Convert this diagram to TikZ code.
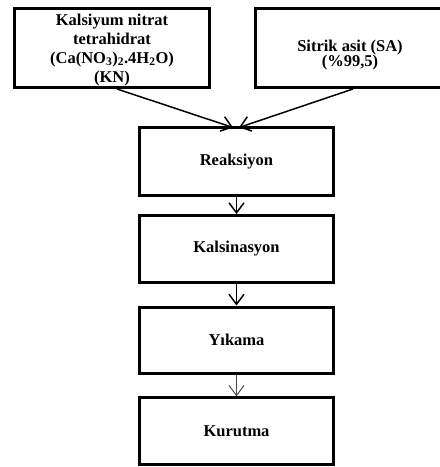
\documentclass[tikz,border=0pt]{standalone}
\usepackage{fontspec}
\setmainfont{Liberation Serif}
\usetikzlibrary{arrows.meta}
\begin{document}
\begin{tikzpicture}[x=1pt,y=-1pt,
  box/.style={draw=black,line width=3pt,rectangle,align=center,inner sep=0pt,
    font=\fontsize{16.5pt}{19pt}\selectfont\bfseries},
  boxtext/.style={align=center,inner sep=0pt},
  flow/.style={line width=1.5pt,-{Straight Barb[length=10pt,width=15pt,line width=1.5pt]}},
  thinflow/.style={line width=1pt,draw=black!70,-{Straight Barb[length=10pt,width=15pt,line width=1pt]}}]
\useasboundingbox (0,0) rectangle (440,467);
\clip (0,0) rectangle (440,467);
\node[box,minimum width=195pt,minimum height=79pt] (kn) at (112,48) {};
\node[boxtext,font=\fontsize{16.5pt}{19pt}\selectfont\bfseries] (kntext) at (112,49.7)
  {Kalsiyum nitrat\\tetrahidrat\\(Ca(NO\textsubscript{3})\textsubscript{2}.4H\textsubscript{2}O)\\(KN)};
\node[box,minimum width=189pt,minimum height=79pt] (sa) at (350,48) {};
\node[boxtext,font=\fontsize{16.5pt}{15pt}\selectfont\bfseries] (satext) at (350,54.7)
  {Sitrik asit (SA)\\(\%99,5)};
\node[box,minimum width=194pt,minimum height=68pt] (rk) at (236.5,161.5) {Reaksiyon};
\node[box,minimum width=194pt,minimum height=67pt] (ks) at (236.5,249) {Kalsinasyon};
\node[box,minimum width=194pt,minimum height=66pt] (yk) at (236.5,340) {Yıkama};
\node[box,minimum width=194pt,minimum height=66.5pt] (kr) at (236.5,431) {Kurutma};
\draw[flow] ([xshift=5pt]kn.south) -- ([xshift=-3.5pt,yshift=-1.5pt]rk.north);
\draw[flow] ([xshift=3pt]sa.south) -- ([xshift=2.5pt,yshift=-1.5pt]rk.north);
\draw[flow] (rk) -- (ks);
\draw[flow] (ks) -- (yk);
\draw[thinflow] (yk) -- (kr);
\end{tikzpicture}
\end{document}
